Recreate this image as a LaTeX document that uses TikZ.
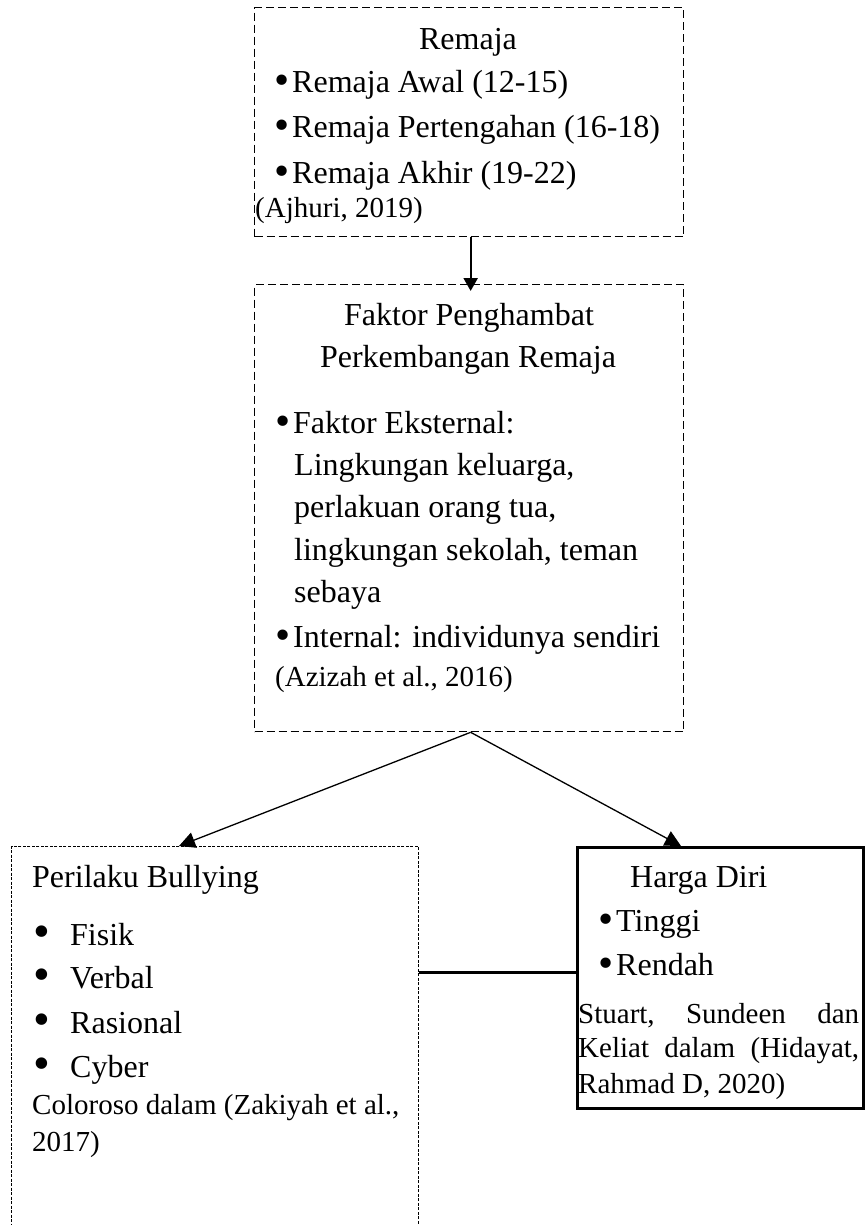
\documentclass[tikz,border=0pt]{standalone}
\usepackage{fontspec}
\setmainfont{Liberation Serif}
\usetikzlibrary{arrows.meta,calc}
\newcommand{\mybul}{\makebox[18pt][l]{\smash{\raisebox{-2pt}{\scalebox{1.35}{•}}}}}
\newcommand{\widebul}{\makebox[37pt][l]{\smash{\raisebox{-2.5pt}{\scalebox{1.5}{•}}}}}
\begin{document}
\begin{tikzpicture}[x=1pt,y=-1pt,
  dashbox/.style={draw, rectangle, line width=1.3pt, dash pattern=on 8pt off 4pt, anchor=north west, inner sep=0pt},
  dotbox/.style={draw, rectangle, line width=1pt, dash pattern=on 3pt off 1.5pt, anchor=north west, inner sep=0pt},
  solidbox/.style={draw, rectangle, line width=3pt, anchor=north west, inner sep=0pt},
  txt/.style={anchor=base west, inner sep=0pt, font=\fontsize{32}{38}\selectfont},
  ctxt/.style={anchor=base, inner sep=0pt, font=\fontsize{32}{38}\selectfont},
  cite/.style={anchor=base west, inner sep=0pt, font=\fontsize{29}{34}\selectfont},
  arr/.style={-{Triangle[length=16pt,width=16pt]}, line width=1.3pt},
  thickarr/.style={-{Triangle[length=13pt,width=14pt]}, line width=2.3pt},
]
\useasboundingbox (0,0) rectangle (864,1225);

% boxes
\node[dashbox, minimum width=429pt, minimum height=229pt] (remaja) at (254,7) {};
\node[dashbox, minimum width=429pt, minimum height=447pt] (faktor) at (254,284) {};
\node[dotbox, minimum width=407pt, minimum height=420pt] (bully) at (11,846) {};
\node[solidbox, minimum width=286pt, minimum height=261pt] (harga) at (576,846) {};

% box 1 text
\node[ctxt] (r0) at (468,50) {Remaja};
\node[txt] (r1) at (274,93) {\mybul Remaja Awal (12-15)};
\node[txt] (r2) at (274,138) {\mybul Remaja Pertengahan (16-18)};
\node[txt] (r3) at (274,183) {\mybul Remaja Akhir (19-22)};
\node[cite] (r4) at (255,217) {(Ajhuri, 2019)};

% box 2 text
\node[ctxt] (f0) at (469,325) {Faktor Penghambat};
\node[ctxt] (f1) at (468,367) {Perkembangan Remaja};
\node[txt] (f2) at (275,433) {\mybul Faktor Eksternal:};
\node[txt] (f3) at (294,475) {Lingkungan keluarga,};
\node[txt] (f4) at (294,517) {perlakuan orang tua,};
\node[txt] (f5) at (294,560) {lingkungan sekolah, teman};
\node[txt] (f6) at (294,602) {sebaya};
\node[txt] (f7) at (275,647) {\mybul Internal: individunya sendiri};
\node[cite] (f8) at (275,686) {(Azizah et al., 2016)};

% left box text
\node[txt] (b0) at (32,887) {Perilaku Bullying};
\node[txt] (b1) at (33,945) {\widebul Fisik};
\node[txt] (b2) at (33,988) {\widebul Verbal};
\node[txt] (b3) at (33,1033) {\widebul Rasional};
\node[txt] (b4) at (33,1077) {\widebul Cyber};
\node[cite] (b5) at (32,1114) {Coloroso dalam (Zakiyah et al.,};
\node[cite] (b6) at (32,1151) {2017)};

% right box text
\node[txt] (h0) at (630,887) {Harga Diri};
\node[txt] (h1) at (598,931) {\mybul Tinggi};
\node[txt] (h2) at (598,975) {\mybul Rendah};
\node[cite] (h3) at (578,1023) {\hbox to 281pt{Stuart,\hfill Sundeen\hfill dan}};
\node[cite] (h4) at (578,1057) {\hbox to 281pt{Keliat\hfill dalam\hfill (Hidayat,}};
\node[cite] (h5) at (578,1093) {Rahmad D, 2020)};

% connectors
\draw[thickarr] ([xshift=1.5pt]remaja.south) -- ([xshift=1.5pt,yshift=-7pt]faktor.north);
\draw[arr] ([xshift=1.5pt]faktor.south) -- ([xshift=168pt]bully.north west);
\draw[arr] ([xshift=1.5pt]faktor.south) -- ([xshift=105pt]harga.north west);
\draw[line width=2.3pt] ([yshift=5.5pt]harga.west) -- ([yshift=5.5pt]harga.west -| bully.east);
\end{tikzpicture}
\end{document}
